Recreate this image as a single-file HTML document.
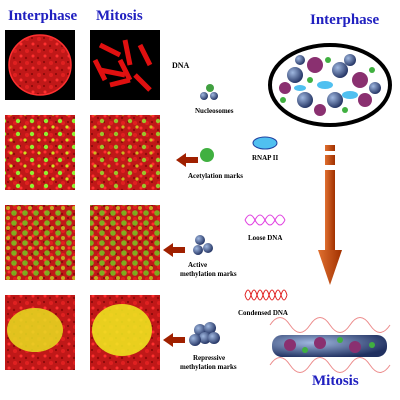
<!DOCTYPE html>
<html><head><meta charset="utf-8"><style>
body{margin:0;background:#fff;}
svg{display:block;font-family:"Liberation Serif",serif;}
</style></head><body>
<svg width="400" height="400" viewBox="0 0 400 400">
<defs>
<pattern id="spk" width="12" height="12" patternUnits="userSpaceOnUse"><rect width="12" height="12" fill="#c01818"/><circle cx="3" cy="3" r="2" fill="#e02020"/><circle cx="9" cy="8" r="1.5" fill="#ff3030"/><circle cx="8" cy="2" r="1" fill="#800808"/><circle cx="2" cy="10" r="1.2" fill="#900a0a"/></pattern>
<pattern id="gdot" width="14" height="13" patternUnits="userSpaceOnUse"><circle cx="4" cy="4" r="2.2" fill="#90f030"/><circle cx="11" cy="10" r="1.6" fill="#d0e020"/></pattern>
<pattern id="gdot2" width="11" height="10" patternUnits="userSpaceOnUse"><circle cx="3" cy="3" r="2.8" fill="#70d020" opacity="0.8"/><circle cx="8" cy="8" r="2" fill="#c0d020" opacity="0.8"/></pattern>
<radialGradient id="yg" cx="40%" cy="40%" r="70%"><stop offset="0" stop-color="#f0f020"/><stop offset="0.6" stop-color="#d0b010"/><stop offset="1" stop-color="#b01010"/></radialGradient>
<radialGradient id="ball" cx="35%" cy="35%" r="70%"><stop offset="0" stop-color="#a0b8e0"/><stop offset="1" stop-color="#203060"/></radialGradient>
<linearGradient id="arr" x1="0" x2="1"><stop offset="0" stop-color="#e07030"/><stop offset="1" stop-color="#a03000"/></linearGradient>
</defs>
<text x="8" y="20" font-size="15" font-weight="bold" fill="#2020c0">Interphase</text>
<text x="96" y="20" font-size="15" font-weight="bold" fill="#2020c0">Mitosis</text>
<text x="310" y="24" font-size="15" font-weight="bold" fill="#2020c0">Interphase</text>
<text x="312" y="385" font-size="15" font-weight="bold" fill="#2020c0">Mitosis</text>
<g><rect x="5" y="30" width="70" height="70" fill="#000"/><ellipse cx="40" cy="65" rx="31" ry="30" fill="url(#spk)" stroke="#ff3030" stroke-width="1.5"/></g>
<g><rect x="90" y="30" width="70" height="70" fill="#000"/>
<path d="M100 45l20 10M125 40l5 25M140 45l10 20M100 70l25 5M110 85l20-5M135 75l15 15M95 60l10 20M120 60l10 20" stroke="#e01010" stroke-width="5"/></g>
<g><rect x="5" y="115" width="70" height="75" fill="url(#spk)"/><rect x="5" y="115" width="70" height="75" fill="url(#gdot)"/></g>
<g><rect x="90" y="115" width="70" height="75" fill="url(#spk)"/><rect x="90" y="115" width="70" height="75" fill="url(#gdot)" opacity="0.8"/></g>
<g><rect x="5" y="205" width="70" height="75" fill="url(#spk)"/><rect x="5" y="205" width="70" height="75" fill="url(#gdot2)"/></g>
<g><rect x="90" y="205" width="70" height="75" fill="url(#spk)"/><rect x="90" y="205" width="70" height="75" fill="url(#gdot2)"/></g>
<g><rect x="5" y="295" width="70" height="75" fill="url(#spk)"/><ellipse cx="35" cy="330" rx="28" ry="22" fill="#e8e020" opacity="0.85"/></g>
<g><rect x="90" y="295" width="70" height="75" fill="url(#spk)"/><ellipse cx="122" cy="330" rx="30" ry="26" fill="#f0f020" opacity="0.85"/></g>
<text x="172" y="68" font-size="8" font-weight="bold">DNA</text>
<g><circle cx="210" cy="88" r="4" fill="#40a040"/><circle cx="204" cy="96" r="4" fill="url(#ball)"/><circle cx="214" cy="96" r="4" fill="url(#ball)"/></g>
<text x="195" y="113" font-size="7" font-weight="bold">Nucleosomes</text>
<path d="M198 157h-12v-4l-10 7 10 7v-4h12z" fill="#a02000"/>
<circle cx="207" cy="155" r="7" fill="#40b040"/>
<text x="188" y="178" font-size="7" font-weight="bold">Acetylation marks</text>
<ellipse cx="265" cy="143" rx="12" ry="6" fill="#50c0f0" stroke="#2040a0"/>
<text x="252" y="160" font-size="7" font-weight="bold">RNAP II</text>
<path d="M185 247h-12v-4l-10 7 10 7v-4h12z" fill="#a02000"/>
<g><circle cx="200" cy="240" r="5" fill="url(#ball)"/><circle cx="208" cy="248" r="5" fill="url(#ball)"/><circle cx="198" cy="250" r="5" fill="url(#ball)"/></g>
<text x="188" y="267" font-size="7" font-weight="bold">Active</text>
<text x="180" y="276" font-size="7" font-weight="bold">methylation marks</text>
<path d="M245 220q5-10 10 0t10 0t10 0t10 0M245 220q5 10 10 0t10 0t10 0t10 0" fill="none" stroke="#e040e0"/>
<text x="248" y="240" font-size="7" font-weight="bold">Loose DNA</text>
<g stroke="#e02020" fill="none"><path d="M245 295q3-10 6 0t6 0t6 0t6 0t6 0t6 0t6 0M245 295q3 10 6 0t6 0t6 0t6 0t6 0t6 0t6 0"/></g>
<text x="238" y="315" font-size="7" font-weight="bold">Condensed DNA</text>
<path d="M185 337h-12v-4l-10 7 10 7v-4h12z" fill="#a02000"/>
<g><circle cx="200" cy="330" r="6" fill="url(#ball)"/><circle cx="210" cy="328" r="6" fill="url(#ball)"/><circle cx="205" cy="338" r="6" fill="url(#ball)"/><circle cx="195" cy="340" r="6" fill="url(#ball)"/><circle cx="214" cy="338" r="6" fill="url(#ball)"/></g>
<text x="193" y="360" font-size="7" font-weight="bold">Repressive</text>
<text x="180" y="369" font-size="7" font-weight="bold">methylation marks</text>
<g>
<ellipse cx="330" cy="85" rx="60" ry="40" fill="#fff" stroke="#000" stroke-width="4"/>
<circle cx="295" cy="75" r="8" fill="url(#ball)"/><circle cx="315" cy="65" r="8" fill="#8a3070"/><circle cx="340" cy="70" r="8" fill="url(#ball)"/><circle cx="360" cy="80" r="8" fill="#8a3070"/><circle cx="305" cy="100" r="8" fill="url(#ball)"/><circle cx="335" cy="100" r="8" fill="url(#ball)"/><circle cx="365" cy="100" r="7" fill="#8a3070"/>
<circle cx="285" cy="88" r="6" fill="#8a3070"/><circle cx="350" cy="60" r="6" fill="url(#ball)"/><circle cx="320" cy="110" r="6" fill="#8a3070"/><circle cx="375" cy="88" r="6" fill="url(#ball)"/><circle cx="300" cy="60" r="5" fill="url(#ball)"/>
<ellipse cx="325" cy="85" rx="8" ry="4" fill="#50c0f0"/><ellipse cx="350" cy="95" rx="8" ry="4" fill="#50c0f0"/><ellipse cx="300" cy="88" rx="6" ry="3" fill="#50c0f0"/>
<circle cx="283" cy="100" r="3" fill="#40b040"/><circle cx="328" cy="60" r="3" fill="#40b040"/><circle cx="372" cy="70" r="3" fill="#40b040"/><circle cx="345" cy="110" r="3" fill="#40b040"/><circle cx="310" cy="80" r="3" fill="#40b040"/>
</g>
<g fill="url(#arr)">
<rect x="325" y="145" width="10" height="6"/><rect x="325" y="155" width="10" height="10"/><rect x="325" y="170" width="10" height="80"/>
<path d="M318 250h24l-12 35z"/>
</g>
<g>
<path d="M270 325q10-15 20 0t20 0t20 0t20 0t20 0t20 0M270 365q10-15 20 0t20 0t20 0t20 0t20 0t20 0" stroke="#e04040" fill="none" opacity="0.6"/>
<rect x="272" y="335" width="115" height="22" rx="10" fill="url(#ball)"/>
<circle cx="290" cy="345" r="6" fill="#8a3070"/><circle cx="320" cy="343" r="6" fill="#8a3070"/><circle cx="355" cy="347" r="6" fill="#8a3070"/><circle cx="305" cy="350" r="3" fill="#40b040"/><circle cx="340" cy="340" r="3" fill="#40b040"/><circle cx="372" cy="345" r="3" fill="#40b040"/>
</g>
</svg>
</body></html>
